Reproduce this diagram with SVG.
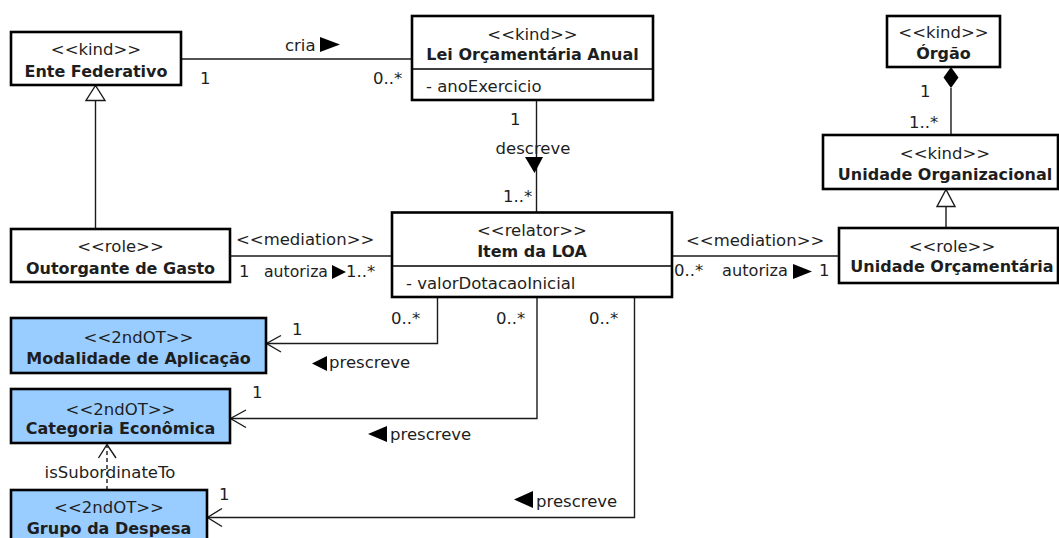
<svg xmlns="http://www.w3.org/2000/svg" width="1059" height="538" viewBox="0 0 1059 538">
<style>
text{font-family:"DejaVu Sans","Lucida Grande","Liberation Sans",sans-serif;font-size:16.5px;fill:#1e1e1e}
.b{font-weight:bold;font-size:16px}
.m{text-anchor:middle}
.box{fill:#fff;stroke:#000;stroke-width:2.6}
.blue{fill:#99ccff;stroke:#000;stroke-width:2.6}
.div{stroke:#000;stroke-width:1.3}
.ln{fill:none;stroke:#1a1a1a;stroke-width:1.4}
.dash{fill:none;stroke:#1a1a1a;stroke-width:1.4;stroke-dasharray:4 3}
.tri{fill:#000}
.hollow{fill:#fff;stroke:#1a1a1a;stroke-width:1.4}
.open{fill:none;stroke:#1a1a1a;stroke-width:1.4}
</style>
<rect width="1059" height="538" fill="#fff"/>

<g id="connectors">
  <!-- cria -->
  <line class="ln" x1="181" y1="59" x2="412" y2="59"/>
  <polygon class="tri" points="320,37 340,44.5 320,52"/>
  <text x="285" y="51">cria</text>
  <text x="200" y="84">1</text>
  <text x="373" y="84">0..*</text>

  <!-- generalization Outorgante -> Ente -->
  <line class="ln" x1="95.5" y1="229" x2="95.5" y2="100.5"/>
  <polygon class="hollow" points="95.5,85.5 86,100.5 105,100.5"/>

  <!-- descreve -->
  <line class="ln" x1="536.5" y1="100" x2="536.5" y2="212"/>
  <text x="510" y="125">1</text>
  <text class="m" x="533" y="154">descreve</text>
  <polygon class="tri" points="525,157 543,157 534.5,173"/>
  <text x="503" y="202">1..*</text>

  <!-- composition Órgão - Unidade Organizacional -->
  <line class="ln" x1="951" y1="88" x2="951" y2="135"/>
  <polygon class="tri" points="951,67 958.5,77.5 951,88 943.5,77.5"/>
  <text x="920" y="97">1</text>
  <text x="909" y="128">1..*</text>

  <!-- generalization Unidade Orçamentária -> Unidade Organizacional -->
  <line class="ln" x1="946" y1="207" x2="946" y2="228"/>
  <polygon class="hollow" points="946,189.5 937,206.5 955,206.5"/>

  <!-- mediation left -->
  <line class="ln" x1="230" y1="256" x2="392" y2="256"/>
  <text x="236" y="245">&lt;&lt;mediation&gt;&gt;</text>
  <text x="239" y="277">1</text>
  <text x="264" y="277" textLength="64" lengthAdjust="spacingAndGlyphs">autoriza</text>
  <polygon class="tri" points="332,265 346,272 332,279"/>
  <text x="346" y="277">1..*</text>

  <!-- mediation right -->
  <line class="ln" x1="672" y1="256" x2="839" y2="256"/>
  <text x="686" y="246">&lt;&lt;mediation&gt;&gt;</text>
  <text x="674" y="276">0..*</text>
  <text x="722" y="276" textLength="66" lengthAdjust="spacingAndGlyphs">autoriza</text>
  <polygon class="tri" points="793,264 812,271.5 793,279"/>
  <text x="819" y="276">1</text>

  <!-- prescreve Modalidade -->
  <polyline class="ln" points="437.5,297 437.5,343.5 266,343.5"/>
  <polyline class="open" points="281,335.5 266.5,343.5 281,352"/>
  <text x="292" y="335">1</text>
  <polygon class="tri" points="327,356 312,363.5 327,371"/>
  <text x="329" y="368">prescreve</text>
  <text x="391" y="324">0..*</text>

  <!-- prescreve Categoria -->
  <polyline class="ln" points="537,297 537,418.5 230,418.5"/>
  <polyline class="open" points="246,410 230.5,418.5 246,427.5"/>
  <text x="252" y="398">1</text>
  <polygon class="tri" points="387,426 368,434 387,442"/>
  <text x="390" y="440">prescreve</text>
  <text x="496" y="324">0..*</text>

  <!-- prescreve Grupo -->
  <polyline class="ln" points="634.5,297 634.5,517.5 207,517.5"/>
  <polyline class="open" points="222,508.5 207.5,517.5 222,526.5"/>
  <text x="219" y="500">1</text>
  <polygon class="tri" points="533,491 514,499.5 533,508"/>
  <text x="536" y="507">prescreve</text>
  <text x="589" y="324">0..*</text>

  <!-- isSubordinateTo -->
  <line class="dash" x1="107" y1="490" x2="107" y2="445"/>
  <polyline class="open" points="98.5,458 107,444.5 116,458"/>
  <text class="m" x="110" y="478">isSubordinateTo</text>
</g>

<g id="ente-federativo">
  <rect class="box" x="11" y="32" width="170" height="53"/>
  <text class="m" x="96" y="55">&lt;&lt;kind&gt;&gt;</text>
  <text class="m b" x="96" y="76.5">Ente Federativo</text>
</g>

<g id="lei-orcamentaria-anual">
  <rect class="box" x="412" y="16" width="241" height="84"/>
  <line class="div" x1="412" y1="69" x2="653" y2="69"/>
  <text class="m" x="532.5" y="39.5">&lt;&lt;kind&gt;&gt;</text>
  <text class="m b" x="532.5" y="60">Lei Orçamentária Anual</text>
  <text x="426" y="91.5">- anoExercicio</text>
</g>

<g id="orgao">
  <rect class="box" x="887" y="16" width="113" height="51"/>
  <text class="m" x="943.5" y="38">&lt;&lt;kind&gt;&gt;</text>
  <text class="m b" x="943.5" y="59">Órgão</text>
</g>

<g id="unidade-organizacional">
  <rect class="box" x="823" y="135" width="235" height="54"/>
  <text class="m" x="945" y="159">&lt;&lt;kind&gt;&gt;</text>
  <text class="m b" x="945" y="180">Unidade Organizacional</text>
</g>

<g id="outorgante-de-gasto">
  <rect class="box" x="11" y="229" width="219" height="53"/>
  <text class="m" x="120.5" y="252">&lt;&lt;role&gt;&gt;</text>
  <text class="m b" x="120.5" y="274">Outorgante de Gasto</text>
</g>

<g id="item-da-loa">
  <rect class="box" x="392" y="212.5" width="280" height="84.5"/>
  <line class="div" x1="392" y1="266" x2="672" y2="266"/>
  <text class="m" x="532" y="235.5">&lt;&lt;relator&gt;&gt;</text>
  <text class="m b" x="532" y="256.5">Item da LOA</text>
  <text x="406" y="288.5">- valorDotacaoInicial</text>
</g>

<g id="unidade-orcamentaria">
  <rect class="box" x="839" y="228" width="219" height="55"/>
  <text class="m" x="952" y="252">&lt;&lt;role&gt;&gt;</text>
  <text class="m b" x="952" y="272">Unidade Orçamentária</text>
</g>

<g id="modalidade-de-aplicacao">
  <rect class="blue" x="11" y="318" width="255" height="55"/>
  <text class="m" x="138.5" y="342.5">&lt;&lt;2ndOT&gt;&gt;</text>
  <text class="m b" x="138.5" y="363.5">Modalidade de Aplicação</text>
</g>

<g id="categoria-economica">
  <rect class="blue" x="11" y="389" width="219" height="54"/>
  <text class="m" x="120.5" y="414.5">&lt;&lt;2ndOT&gt;&gt;</text>
  <text class="m b" x="120.5" y="434">Categoria Econômica</text>
</g>

<g id="grupo-da-despesa">
  <rect class="blue" x="11" y="490" width="196" height="60"/>
  <text class="m" x="109" y="513">&lt;&lt;2ndOT&gt;&gt;</text>
  <text class="m b" x="109" y="534">Grupo da Despesa</text>
</g>
</svg>
